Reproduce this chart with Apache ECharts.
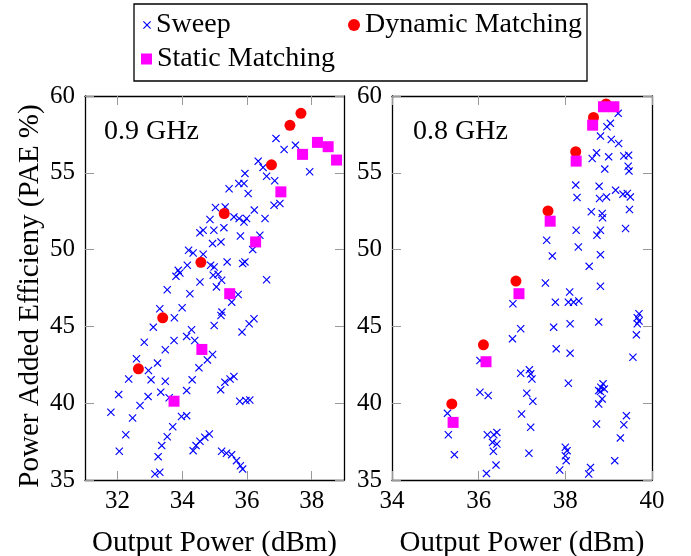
<!DOCTYPE html>
<html>
<head>
<meta charset="utf-8">
<script src="https://cdn.jsdelivr.net/npm/echarts@6/dist/echarts.min.js"></script>
<style>
html,body{margin:0;padding:0;background:#fff;}
#main{width:691px;height:556px;}
</style>
</head>
<body>
<div id="main"></div>
<script>
// 0.9 GHz panel
var sweep09 = [
[36.9,57.24],[37.15,56.52],[37.5,56.8],[37.94,55.07],[36.35,55.76],[36.5,55.35],[35.94,54.96],[35.75,54.3],[35.91,54.3],
[36.04,53.65],[35.45,53.96],[36.61,54.78],[36.86,54.48],[36.84,52.89],[37.02,53.0],[36.23,52.57],[35.03,52.74],[35.33,52.78],
[34.86,51.96],[35.6,52.13],[35.76,52.02],[35.91,51.8],[35.99,52.02],[36.56,52.02],[34.65,51.26],[34.55,51.09],[34.98,51.26],
[35.29,51.43],[35.8,50.89],[34.94,50.39],[35.2,50.5],[36.4,50.93],[36.18,50.0],[34.2,49.96],[34.34,49.78],[34.65,49.7],
[34.16,48.98],[33.88,48.65],[33.93,48.48],[33.81,48.26],[34.88,48.98],[34.99,48.87],[35.39,49.2],[35.87,49.09],[35.94,49.2],
[34.96,48.33],[35.11,48.39],[35.22,48.0],[34.55,47.89],[36.61,48.04],[35.06,47.57],[33.54,47.39],
[34.24,47.13],[35.73,47.08],[35.53,46.58],[33.31,46.15],[34.0,46.21],[33.76,45.56],[35.23,45.93],[35.2,45.71],
[33.11,44.95],[34.29,44.78],[34.99,45.06],[35.85,44.63],[36.07,45.17],[36.22,45.5],[32.83,43.97],[33.75,44.08],
[34.14,44.35],[34.39,44.08],[33.48,43.48],[32.59,42.89],[33.24,42.61],[32.96,42.13],[33.04,41.52],[32.35,41.58],
[34.52,42.3],[34.78,42.82],[34.94,43.17],[33.48,41.43],[34.31,41.52],[34.14,40.82],[33.34,40.72],[33.6,40.35],
[32.95,40.43],[32.7,39.85],[32.04,40.56],[31.8,39.41],[32.47,39.04],[35.19,40.87],[35.32,41.37],[35.48,41.58],
[35.6,41.74],[35.78,40.13],[35.97,40.17],[36.09,40.21],[33.98,39.13],[34.14,39.19],[33.71,38.47],[33.54,37.82],
[33.37,37.24],[33.26,36.52],[32.26,37.95],[32.06,36.87],[33.16,35.39],[33.31,35.5],[34.84,37.99],[34.7,37.78],
[34.55,37.52],[34.43,37.24],[34.34,36.91],[35.22,36.87],[35.37,36.74],[35.53,36.65],[35.68,36.26],[35.8,35.93],[35.87,35.71]
];
var dynamic09 = [[32.65,42.24],[33.4,45.56],[34.58,49.17],[35.3,52.35],[36.76,55.52],[37.33,58.09],[37.67,58.87]];
var static09 = [[33.75,40.13],[34.61,43.5],[35.47,47.13],[36.27,50.5],[37.05,53.76],[37.72,56.2],[38.18,56.98],[38.51,56.7],[38.77,55.83]];

// 0.8 GHz panel
var sweep08 = [
[38.24,54.2],[38.27,53.39],[37.57,50.61],[37.7,49.59],[38.25,51.26],[38.3,50.17],[38.55,48.91],[37.54,47.83],
[39.22,58.87],[39.04,58.22],[38.96,58.0],[38.81,57.39],[39.06,57.17],[39.23,56.91],[38.72,56.3],[38.62,55.93],
[39.0,56.04],[39.35,56.09],[39.46,56.15],[39.45,55.43],[39.47,55.11],[38.91,55.24],[38.78,54.13],[38.79,53.33],
[38.95,53.43],[39.16,53.87],[39.33,53.61],[39.43,53.65],[39.5,53.43],[38.6,52.46],[38.85,52.35],[38.86,52.07],
[39.48,52.61],[38.81,51.26],[38.73,50.93],[39.39,51.37],[38.81,49.67],[38.81,47.61],
[35.28,39.34],[35.3,37.95],[35.44,36.65],[36.03,40.71],[36.22,40.5],[36.03,42.78],[36.2,37.95],[36.34,36.87],
[36.35,37.95],[36.42,38.1],[36.32,37.45],[36.42,37.34],[36.4,35.97],[36.18,35.43],[36.79,46.47],[36.78,44.19],
[36.97,44.85],[36.97,41.95],[37.17,42.17],[37.2,41.91],[37.23,41.58],[37.11,40.65],[37.25,40.13],[36.99,39.3],
[37.2,38.43],[37.16,36.74],[37.77,46.58],[38.07,46.58],[38.1,47.24],[38.19,46.58],[38.31,46.65],[37.73,44.95],
[38.11,45.17],[37.79,43.54],[38.11,43.26],[38.07,41.3],[37.87,35.65],[38.0,37.13],[38.04,36.91],[38.0,36.58],
[38.02,36.26],[38.77,45.28],[38.77,40.82],[38.77,39.95],[38.72,38.65],
[39.7,45.82],[39.66,45.56],[39.7,45.35],[39.66,45.17],[39.64,44.45],[39.56,42.99],[38.87,41.26],[38.82,41.04],
[38.9,40.93],[38.81,40.76],[38.85,40.28],[39.41,39.19],[39.35,38.6],[39.27,37.74],[39.14,36.26],[38.58,35.82],[38.54,35.39]
];
var dynamic08 = [[35.38,39.95],[36.11,43.8],[36.86,47.95],[37.6,52.52],[38.24,56.37],[38.65,58.6],[38.94,59.48]];
var static08 = [[35.41,38.75],[36.17,42.7],[36.93,47.13],[37.65,51.85],[38.25,55.76],[38.63,58.1],[38.88,59.3],[39.12,59.3]];

var xTicks09 = [32, 34, 36, 38];
var xTicks08 = [34, 36, 38, 40];
var yTicks = [35, 40, 45, 50, 55, 60];

var font = 'Liberation Serif';
var crossPath = 'path://M0,1L1,0L5,4L9,0L10,1L6,5L10,9L9,10L5,6L1,10L0,9L4,5Z';

function xAx(grid, min, max, ticks, pos, label) {
    return {
        type: 'value', gridIndex: grid, min: min, max: max, position: pos,
        name: label ? 'Output Power (dBm)' : '', nameLocation: 'middle', nameGap: 49,
        nameTextStyle: {fontFamily: font, fontSize: 29, color: '#000'},
        axisLine: {show: true, onZero: false, lineStyle: {color: '#000', width: 1.3}},
        axisTick: {show: true, inside: true, length: 9, customValues: ticks, lineStyle: {color: '#999', width: 1}},
        axisLabel: {show: label, customValues: ticks, margin: 9, fontFamily: font, fontSize: 25, color: '#000'},
        splitLine: {show: false}
    };
}
function yAx(grid, pos, label, name) {
    return {
        type: 'value', gridIndex: grid, min: 35, max: 60, position: pos,
        name: name || '', nameLocation: 'middle', nameGap: 40,
        nameTextStyle: {fontFamily: font, fontSize: 29, color: '#000', padding: [0, 16, 0, 0]},
        axisLine: {show: true, onZero: false, lineStyle: {color: '#000', width: 1.3}},
        axisTick: {show: true, inside: true, length: 9, customValues: yTicks, lineStyle: {color: '#999', width: 1}},
        axisLabel: {show: label, customValues: yTicks, margin: 10, fontFamily: font, fontSize: 25, color: '#000'},
        splitLine: {show: false}
    };
}

var chartDom = document.getElementById('main');
var myChart = echarts.init(chartDom);
var option = {
    animation: false,
    grid: [
        {left: 85, top: 96, width: 259, height: 384, outerBoundsMode: 'none'},
        {left: 392, top: 96, width: 260, height: 384, outerBoundsMode: 'none'}
    ],
    xAxis: [
        xAx(0, 31, 39, xTicks09, 'bottom', true),
        xAx(1, 34, 40, xTicks08, 'bottom', true),
        xAx(0, 31, 39, xTicks09, 'top', false),
        xAx(1, 34, 40, xTicks08, 'top', false)
    ],
    yAxis: [
        yAx(0, 'left', true, 'Power Added Efficieny (PAE %)'),
        yAx(1, 'left', true),
        yAx(0, 'right', false),
        yAx(1, 'right', false)
    ],
    legend: [
        {data: [{name: 'Sweep', icon: crossPath}], left: 143, top: 11, itemWidth: 8, itemHeight: 8, padding: 0,
         selectedMode: false, textStyle: {fontFamily: font, fontSize: 28, color: '#000'}},
        {data: [{name: 'Dynamic Matching', icon: 'circle'}], left: 348, top: 11, itemWidth: 12, itemHeight: 12, padding: 0,
         selectedMode: false, textStyle: {fontFamily: font, fontSize: 28, color: '#000'}},
        {data: [{name: 'Static Matching', icon: 'rect'}], left: 141, top: 45, itemWidth: 11, itemHeight: 11, padding: 0,
         selectedMode: false, textStyle: {fontFamily: font, fontSize: 28, color: '#000'}}
    ],
    graphic: [
        {type: 'rect', shape: {x: 134, y: 4, width: 453, height: 77}, style: {fill: 'none', stroke: '#000', lineWidth: 1.3}},
        {type: 'text', x: 104, y: 132, style: {text: '0.9 GHz', font: '28px "Liberation Serif"', fill: '#000', verticalAlign: 'middle'}},
        {type: 'text', x: 413, y: 132, style: {text: '0.8 GHz', font: '28px "Liberation Serif"', fill: '#000', verticalAlign: 'middle'}}
    ],
    series: [
        {name: 'Sweep', type: 'scatter', xAxisIndex: 0, yAxisIndex: 0, data: sweep09,
         symbol: crossPath, symbolSize: 8, itemStyle: {color: '#0000ff', opacity: 1}},
        {name: 'Dynamic Matching', type: 'scatter', xAxisIndex: 0, yAxisIndex: 0, data: dynamic09,
         symbol: 'circle', symbolSize: 11, itemStyle: {color: '#ff0000', opacity: 1}},
        {name: 'Static Matching', type: 'scatter', xAxisIndex: 0, yAxisIndex: 0, data: static09,
         symbol: 'rect', symbolSize: 11, itemStyle: {color: '#ff00ff', opacity: 1}},
        {name: 'Sweep', type: 'scatter', xAxisIndex: 1, yAxisIndex: 1, data: sweep08,
         symbol: crossPath, symbolSize: 8, itemStyle: {color: '#0000ff', opacity: 1}},
        {name: 'Dynamic Matching', type: 'scatter', xAxisIndex: 1, yAxisIndex: 1, data: dynamic08,
         symbol: 'circle', symbolSize: 11, itemStyle: {color: '#ff0000', opacity: 1}},
        {name: 'Static Matching', type: 'scatter', xAxisIndex: 1, yAxisIndex: 1, data: static08,
         symbol: 'rect', symbolSize: 11, itemStyle: {color: '#ff00ff', opacity: 1}}
    ]
};
option && myChart.setOption(option);
</script>
</body>
</html>
